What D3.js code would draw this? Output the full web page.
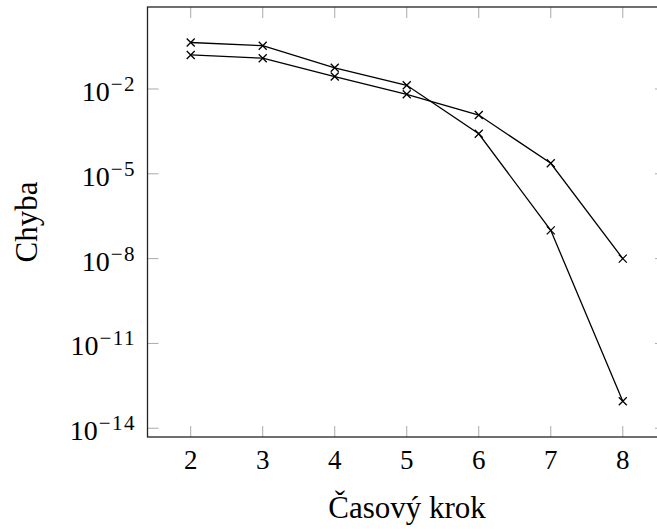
<!DOCTYPE html>
<html><head><meta charset="utf-8">
<script src="https://cdn.jsdelivr.net/npm/d3@7"></script>
<style>body{margin:0;background:#fff}svg{display:block}</style>
</head><body>
<svg id="c" width="657" height="529"></svg>
<script>
const steps = [2,3,4,5,6,7,8];
// error values
const seriesA = [0.44, 0.34, 0.056, 0.0135, 2.6e-4, 1.0e-7, 9e-14];
const seriesB = [0.16, 0.123, 0.0275, 6.5e-3, 1.2e-3, 2.35e-5, 1.0e-8];
const yTickExps = [-2,-5,-8,-11,-14];
const xLabel = "Časový krok";
const yLabel = "Chyba";

const svg = d3.select("#c");
const L = 147.5, R = 666, T = 7, B = 437;
const x = d3.scaleLinear().domain([1.4, 8.6]).range([L, R]);
const y = d3.scaleLog().domain([Math.pow(10,-14.31), Math.pow(10,0.9)]).range([B, T]);
const font = "'Liberation Serif', 'DejaVu Serif', serif";
const tickLen = 11;

// ticks (inner, all sides)
const g = svg.append("g");
steps.forEach(s => {
  g.append("line").attr("x1", x(s)).attr("x2", x(s)).attr("y1", B).attr("y2", B - tickLen).attr("stroke", "#aaa").attr("stroke-width", 1);
  g.append("line").attr("x1", x(s)).attr("x2", x(s)).attr("y1", T).attr("y2", T + tickLen).attr("stroke", "#aaa").attr("stroke-width", 1);
});
yTickExps.forEach(e => {
  const yy = y(Math.pow(10, e));
  g.append("line").attr("x1", L).attr("x2", L + tickLen).attr("y1", yy).attr("y2", yy).attr("stroke", "#aaa").attr("stroke-width", 1);
  g.append("line").attr("x1", R).attr("x2", R - tickLen).attr("y1", yy).attr("y2", yy).attr("stroke", "#aaa").attr("stroke-width", 1);
});

// frame
svg.append("rect").attr("x", L).attr("y", T).attr("width", R - L).attr("height", B - T)
  .attr("fill", "none").attr("stroke", "#222").attr("stroke-width", 1.3);

// series
const line = d3.line().x((d, i) => x(steps[i])).y(d => y(d));
[seriesA, seriesB].forEach(ser => {
  svg.append("path").attr("d", line(ser)).attr("fill", "none").attr("stroke", "#000").attr("stroke-width", 1.3);
  const m = 4;
  ser.forEach((v, i) => {
    const cx = x(steps[i]), cy = y(v);
    svg.append("path").attr("d", `M${cx-m},${cy-m}L${cx+m},${cy+m}M${cx-m},${cy+m}L${cx+m},${cy-m}`)
      .attr("stroke", "#000").attr("stroke-width", 1.3);
  });
});

// x tick labels
steps.forEach(s => {
  svg.append("text").attr("x", x(s)).attr("y", 469).attr("text-anchor", "middle")
    .attr("font-family", font).attr("font-size", 27).text(s);
});
// y tick labels
yTickExps.forEach(e => {
  const yy = y(Math.pow(10, e));
  const t = svg.append("text").attr("x", 136).attr("y", yy + 12).attr("text-anchor", "end")
    .attr("font-family", font).attr("font-size", 28);
  t.append("tspan").text("10");
  t.append("tspan").attr("dy", -10).attr("dx", 1).attr("font-size", 21).attr("letter-spacing", 1.5).text("\u2212" + Math.abs(e));
});

svg.append("text").attr("x", 407).attr("y", 518).attr("text-anchor", "middle")
  .attr("font-family", font).attr("font-size", 31).text(xLabel);
svg.append("text").attr("transform", "translate(37,222) rotate(-90)").attr("text-anchor", "middle")
  .attr("font-family", font).attr("font-size", 31).text(yLabel);
</script>
</body></html>
